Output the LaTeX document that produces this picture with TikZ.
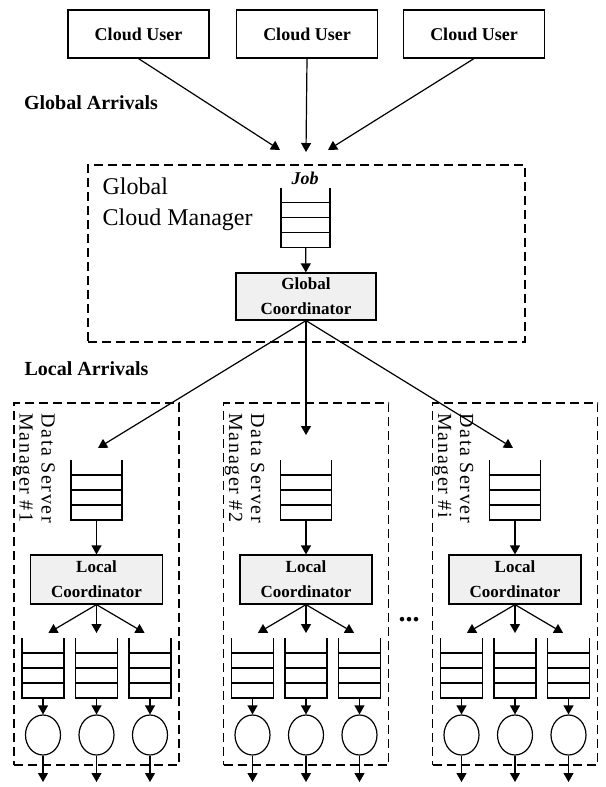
\documentclass[tikz,border=0pt]{standalone}
\usepackage{fontspec}
\setmainfont{Liberation Serif}
\usetikzlibrary{arrows.meta,shapes.geometric}

% open-top queue drawn round an empty node
\newcommand{\qlines}[1]{%
  \draw (#1.north west) -- (#1.south west) -- (#1.south east) -- (#1.north east);
  \draw ([yshift=7.5pt]#1.south west) -- ([yshift=7.5pt]#1.south east);
  \draw ([yshift=15pt]#1.south west) -- ([yshift=15pt]#1.south east);
  \draw ([yshift=22.5pt]#1.south west) -- ([yshift=22.5pt]#1.south east);
}

\begin{document}
\begin{tikzpicture}[x=0.5pt, y=-0.5pt, line width=0.6pt, >={Triangle[length=4.5pt,width=5pt]}]
	\tikzset{user/.style={rectangle, draw, minimum width=70.5pt, minimum height=24pt, font=\fontsize{9}{10}\selectfont\bfseries},
		coord/.style={rectangle, draw, fill=gray!12, align=center, inner sep=0pt, minimum height=24pt, font=\fontsize{8.5}{12.5}\selectfont\bfseries},
		mgr/.style={rectangle, draw, dash pattern=on 4.5pt off 2.5pt},
		que/.style={rectangle, minimum height=30pt, inner sep=0pt, outer sep=0pt},
		srv/.style={ellipse, draw, minimum width=17.5pt, minimum height=20pt, inner sep=0pt},
		arrlbl/.style={font=\fontsize{10}{12}\selectfont\bfseries}}
\useasboundingbox (0,0) rectangle (605,787);

\node[user] at (138.5,34) (u1) {Cloud User};
\node[user] at (307,34) (u2) {Cloud User};
\node[user] at (474,34) (u3) {Cloud User};
\node[arrlbl] at (91,103) (garr) {Global Arrivals};
\coordinate (ga1) at (280,150);
\coordinate (ga2) at (306,152);
\coordinate (ga3) at (328,150);
			\draw [->] (u1.south) -- (ga1);
			\draw [->] (u2.south) -- (ga2);
			\draw [->] (u3.south) -- (ga3);

\node[mgr, minimum width=218.5pt, minimum height=88.5pt] at (306.5,253.5) (gcm) {};
\node[anchor=west, align=left, inner sep=0pt, font=\fontsize{12}{15.5}\selectfont] at (102,204) (gcmlbl) {Global\\Cloud Manager};
\node[font=\fontsize{9}{10}\selectfont\bfseries\itshape] at (305,178) (job) {Job};
\node[que, minimum width=24.5pt] at (305.5,217.5) (gq) {};
\qlines{gq}
\node[coord, minimum width=70pt, minimum height=23.5pt] at (306,296.5) (gc) {Global\\Coordinator};
			\draw [->] (gq) -- (gc);

\node[arrlbl] at (86.5,369) (larr) {Local Arrivals};
\coordinate (la1) at (98,448);
\coordinate (la2) at (306,435);
\coordinate (la3) at (513,448);
			\draw [->] (gc.south) -- (la1);
			\draw [->] (gc.south) -- (la2);
			\draw [->] (gc.south) -- (la3);

\foreach \cx/\n [count=\i] in {96.5/1, 306/2, 515/i}{
	\node[mgr, minimum width=82.5pt, minimum height=181pt] at (\cx,584) (dsm\i) {};
	\node[rotate=-90, anchor=north west, align=left, inner sep=0pt, font=\fontsize{10}{11}\selectfont\addfontfeature{LetterSpace=8}] at ({\cx-41},413) (dsmlbl\i) {Data Server\\Manager \#\n};
	\node[que, minimum width=25.5pt] at (\cx,490) (q\i) {};
	\qlines{q\i}
	\node[coord, minimum width=66pt, minimum height=24.5pt] at (\cx,579.5) (lc\i) {Local\\Coordinator};
			\draw [->] (q\i) -- (lc\i);
	\foreach \dx [count=\j] in {-53.5,0,53.5}{
		\node[que, minimum width=21pt] at ({\cx+\dx},668) (sq\i\j) {};
		\qlines{sq\i\j}
		\node[srv] at ({\cx+\dx},735) (s\i\j) {};
		\coordinate (lt\i\j) at ({\cx+0.9*\dx},633);
		\coordinate (out\i\j) at ({\cx+\dx},782);
			\draw [->] (lc\i.south) -- (lt\i\j);
			\draw [->] (sq\i\j) -- (s\i\j);
			\draw [->] (s\i\j) -- (out\i\j);
	}
}
\node[font=\fontsize{14}{14}\selectfont\bfseries] at (409,620) (dots) {...};
		\end{tikzpicture}
\end{document}
